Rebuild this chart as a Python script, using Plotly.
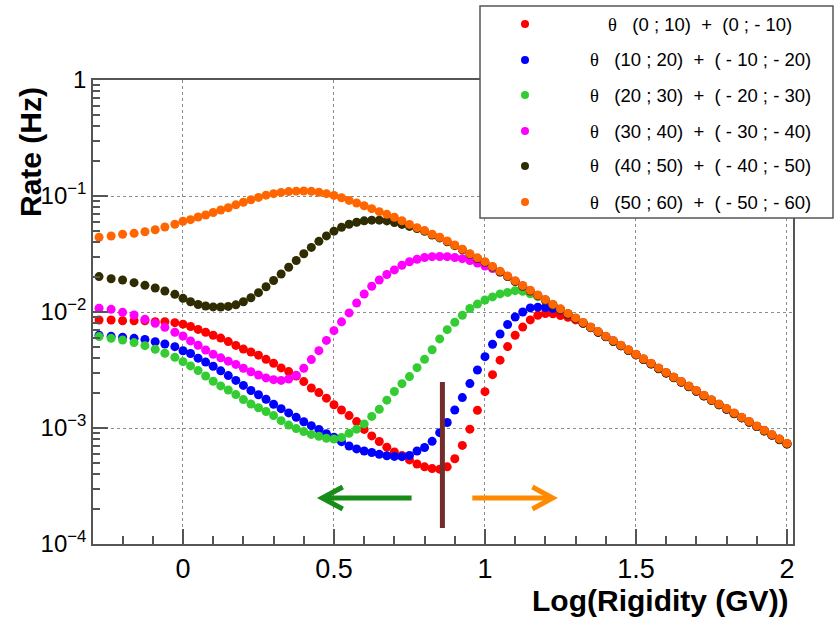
import numpy as np
import plotly.graph_objects as go

# Log10 of rigidity (GV) at each measured bin
log_rigidity = [
    -0.278, -0.238, -0.200, -0.162, -0.126, -0.092, -0.060, -0.027,
    0.000, 0.025, 0.050, 0.075, 0.100, 0.125, 0.150, 0.175, 0.200, 0.225,
    0.250, 0.275, 0.300, 0.325, 0.350, 0.375, 0.400, 0.425, 0.450, 0.475,
    0.500, 0.525, 0.550, 0.575, 0.600, 0.625, 0.650, 0.675, 0.700, 0.725,
    0.750, 0.775, 0.800, 0.825, 0.850, 0.875, 0.900, 0.925, 0.950, 0.975,
    1.000, 1.025, 1.050, 1.075, 1.100, 1.125, 1.150, 1.175, 1.200, 1.225,
    1.250, 1.275, 1.300, 1.325, 1.350, 1.375, 1.400, 1.425, 1.450, 1.475,
    1.500, 1.525, 1.550, 1.575, 1.600, 1.625, 1.650, 1.675, 1.700, 1.725,
    1.750, 1.775, 1.800, 1.825, 1.850, 1.875, 1.900, 1.925, 1.950, 1.975,
    2.000,
]

# log10 of the rate (Hz) for each zenith-angle band
log10_rate_0_10 = [
    -2.069, -2.069, -2.075, -2.075, -2.075, -2.084, -2.084, -2.092,
    -2.105, -2.125, -2.150, -2.175, -2.200, -2.225, -2.255, -2.288, -2.320, -2.345,
    -2.372, -2.408, -2.442, -2.482, -2.514, -2.552, -2.600, -2.655, -2.695, -2.743,
    -2.800, -2.845, -2.893, -2.945, -3.012, -3.068, -3.116, -3.165, -3.207, -3.236,
    -3.275, -3.310, -3.335, -3.350, -3.355, -3.335, -3.265, -3.150, -3.010, -2.848,
    -2.687, -2.540, -2.415, -2.298, -2.200, -2.130, -2.068, -2.028, -2.013, -2.015,
    -2.030, -2.045, -2.068, -2.098, -2.133, -2.173, -2.212, -2.251, -2.290, -2.329,
    -2.368, -2.407, -2.446, -2.486, -2.525, -2.564, -2.603, -2.642, -2.681, -2.721,
    -2.760, -2.798, -2.836, -2.874, -2.911, -2.948, -2.986, -3.023, -3.060, -3.098,
    -3.136,
]
log10_rate_10_20 = [
    -2.200, -2.210, -2.218, -2.227, -2.236, -2.256, -2.276, -2.299,
    -2.334, -2.358, -2.398, -2.432, -2.468, -2.507, -2.548, -2.590, -2.633, -2.677,
    -2.713, -2.752, -2.795, -2.833, -2.870, -2.908, -2.946, -2.980, -3.012, -3.050,
    -3.080, -3.118, -3.155, -3.180, -3.198, -3.211, -3.227, -3.239, -3.245, -3.247,
    -3.237, -3.198, -3.168, -3.115, -3.040, -2.953, -2.845, -2.738, -2.617, -2.500,
    -2.385, -2.278, -2.190, -2.108, -2.043, -2.000, -1.965, -1.958, -1.962, -1.970,
    -1.982, -2.017, -2.055, -2.094, -2.133, -2.173, -2.212, -2.251, -2.290, -2.329,
    -2.368, -2.407, -2.446, -2.486, -2.525, -2.564, -2.603, -2.642, -2.681, -2.721,
    -2.760, -2.798, -2.836, -2.874, -2.911, -2.948, -2.986, -3.023, -3.060, -3.098,
    -3.136,
]
log10_rate_20_30 = [
    -2.212, -2.227, -2.241, -2.264, -2.290, -2.322, -2.356, -2.391,
    -2.428, -2.465, -2.505, -2.552, -2.597, -2.637, -2.672, -2.712, -2.755, -2.793,
    -2.825, -2.858, -2.893, -2.937, -2.975, -3.005, -3.031, -3.055, -3.072, -3.088,
    -3.095, -3.082, -3.045, -3.010, -2.965, -2.900, -2.838, -2.760, -2.685, -2.618,
    -2.557, -2.480, -2.408, -2.325, -2.232, -2.152, -2.088, -2.028, -1.970, -1.932,
    -1.897, -1.870, -1.844, -1.831, -1.816, -1.822, -1.843, -1.868, -1.896, -1.937,
    -1.976, -2.015, -2.054, -2.093, -2.132, -2.172, -2.211, -2.250, -2.289, -2.328,
    -2.367, -2.406, -2.445, -2.485, -2.524, -2.563, -2.602, -2.641, -2.680, -2.720,
    -2.759, -2.797, -2.835, -2.873, -2.910, -2.947, -2.985, -3.022, -3.059, -3.097,
    -3.135,
]
log10_rate_30_40 = [
    -1.968, -1.977, -2.003, -2.026, -2.063, -2.098, -2.132, -2.175,
    -2.207, -2.249, -2.287, -2.328, -2.365, -2.395, -2.424, -2.452, -2.485, -2.515,
    -2.543, -2.568, -2.583, -2.590, -2.578, -2.545, -2.485, -2.410, -2.333, -2.245,
    -2.161, -2.085, -2.008, -1.922, -1.845, -1.778, -1.724, -1.677, -1.637, -1.597,
    -1.567, -1.545, -1.530, -1.523, -1.522, -1.523, -1.530, -1.540, -1.556, -1.578,
    -1.603, -1.625, -1.655, -1.692, -1.735, -1.776, -1.817, -1.857, -1.897, -1.938,
    -1.977, -2.016, -2.055, -2.094, -2.133, -2.173, -2.212, -2.251, -2.290, -2.329,
    -2.368, -2.407, -2.446, -2.486, -2.525, -2.564, -2.603, -2.642, -2.681, -2.721,
    -2.760, -2.798, -2.836, -2.874, -2.911, -2.948, -2.986, -3.023, -3.060, -3.098,
    -3.136,
]
log10_rate_40_50 = [
    -1.695, -1.713, -1.724, -1.747, -1.770, -1.793, -1.819, -1.848,
    -1.882, -1.912, -1.935, -1.948, -1.956, -1.957, -1.952, -1.938, -1.912, -1.877,
    -1.833, -1.782, -1.728, -1.672, -1.614, -1.556, -1.498, -1.443, -1.391, -1.344,
    -1.303, -1.270, -1.244, -1.226, -1.214, -1.208, -1.208, -1.215, -1.228, -1.245,
    -1.262, -1.281, -1.304, -1.336, -1.361, -1.394, -1.428, -1.463, -1.503, -1.539,
    -1.572, -1.613, -1.655, -1.695, -1.737, -1.778, -1.820, -1.859, -1.899, -1.941,
    -1.979, -2.019, -2.057, -2.097, -2.135, -2.176, -2.214, -2.254, -2.292, -2.332,
    -2.370, -2.410, -2.448, -2.489, -2.527, -2.567, -2.605, -2.645, -2.683, -2.724,
    -2.762, -2.801, -2.838, -2.877, -2.913, -2.951, -2.988, -3.026, -3.062, -3.101,
    -3.138,
]
log10_rate_50_60 = [
    -1.356, -1.345, -1.330, -1.322, -1.308, -1.291, -1.267, -1.244,
    -1.218, -1.204, -1.181, -1.164, -1.142, -1.121, -1.101, -1.076, -1.054, -1.032,
    -1.012, -0.993, -0.980, -0.969, -0.962, -0.958, -0.957, -0.960, -0.968, -0.980,
    -0.995, -1.015, -1.038, -1.060, -1.084, -1.109, -1.135, -1.158, -1.183, -1.213,
    -1.245, -1.273, -1.298, -1.330, -1.356, -1.388, -1.422, -1.458, -1.498, -1.533,
    -1.566, -1.607, -1.648, -1.689, -1.731, -1.772, -1.813, -1.853, -1.893, -1.934,
    -1.973, -2.012, -2.051, -2.090, -2.129, -2.169, -2.208, -2.247, -2.286, -2.325,
    -2.364, -2.403, -2.442, -2.482, -2.521, -2.560, -2.599, -2.638, -2.677, -2.717,
    -2.756, -2.794, -2.832, -2.870, -2.907, -2.944, -2.982, -3.019, -3.056, -3.094,
    -3.132,
]

band_labels = [
    "(0 ; 10)\u00a0\u00a0+\u00a0\u00a0(0 ; - 10)",
    "(10 ; 20)\u00a0\u00a0+\u00a0\u00a0( - 10 ; - 20)",
    "(20 ; 30)\u00a0\u00a0+\u00a0\u00a0( - 20 ; - 30)",
    "(30 ; 40)\u00a0\u00a0+\u00a0\u00a0( - 30 ; - 40)",
    "(40 ; 50)\u00a0\u00a0+\u00a0\u00a0( - 40 ; - 50)",
    "(50 ; 60)\u00a0\u00a0+\u00a0\u00a0( - 50 ; - 60)",
]
band_colors = ["#ff0000", "#0000ff", "#33cc33", "#ff00ff", "#2e2c00", "#ff6600"]
band_rates = [log10_rate_0_10, log10_rate_10_20, log10_rate_20_30,
              log10_rate_30_40, log10_rate_40_50, log10_rate_50_60]

x_ticks = [0, 0.5, 1, 1.5, 2]
x_tick_text = ["0", "0.5", "1", "1.5", "2"]
y_ticks = [1e-4, 1e-3, 1e-2, 1e-1, 1]
y_tick_text = ["10<sup>\u22124</sup>", "10<sup>\u22123</sup>", "10<sup>\u22122</sup>",
               "10<sup>\u22121</sup>", "1"]
y_minor = [m * 10.0 ** e for e in range(-4, 0) for m in range(2, 10)]

cut_log_rigidity = 0.859

for vals in band_rates:
    if len(vals) != len(log_rigidity):
        raise ValueError("series length mismatch")

# frame geometry in pixels
W, H = 836, 620
L, R, T, B = 93, 793, 80, 544


def px_x(px):
    return (px - L) / (R - L)


def px_y(py):
    return (B - py) / (B - T)


FONT = "Liberation Sans, Arial, Helvetica, sans-serif"
AXIS_GREY = "#555555"

fig = go.Figure()
for label, vals, color in zip(band_labels, band_rates, band_colors):
    fig.add_trace(go.Scatter(
        x=log_rigidity,
        y=np.power(10.0, vals),
        mode="markers",
        name=label,
        marker=dict(size=9, color=color, line=dict(width=0)),
        showlegend=False,
    ))

shapes = []
# cut line and direction arrows
shapes.append(dict(type="line", xref="x", yref="paper",
                   x0=cut_log_rigidity, x1=cut_log_rigidity,
                   y0=px_y(528), y1=px_y(382),
                   line=dict(color="#722c2c", width=5), layer="above"))
green_arrow = "#178c17"
orange_arrow = "#ff8a00"
shapes.append(dict(type="line", xref="x", yref="paper",
                   x0=0.462, x1=0.757, y0=px_y(498), y1=px_y(498),
                   line=dict(color=green_arrow, width=5), layer="above"))
shapes.append(dict(type="path", xref="x", yref="paper",
                   path=f"M 0.529,{px_y(487)} L 0.461,{px_y(498)} L 0.529,{px_y(509)}",
                   line=dict(color=green_arrow, width=5), layer="above"))
shapes.append(dict(type="line", xref="x", yref="paper",
                   x0=0.958, x1=1.220, y0=px_y(498), y1=px_y(498),
                   line=dict(color=orange_arrow, width=5), layer="above"))
shapes.append(dict(type="path", xref="x", yref="paper",
                   path=f"M 1.157,{px_y(487)} L 1.224,{px_y(498)} L 1.157,{px_y(509)}",
                   line=dict(color=orange_arrow, width=5), layer="above"))

# legend box
shapes.append(dict(type="rect", xref="paper", yref="paper",
                   x0=px_x(480), x1=px_x(833), y0=px_y(218), y1=px_y(6),
                   line=dict(color=AXIS_GREY, width=1.5), fillcolor="white",
                   layer="above"))

annotations = []
row_y = [24, 60, 95, 131, 166, 202]
for i, (label, color) in enumerate(zip(band_labels, band_colors)):
    cy = row_y[i]
    shapes.append(dict(type="circle", xref="paper", yref="paper",
                       x0=px_x(521), x1=px_x(529), y0=px_y(cy + 4), y1=px_y(cy - 4),
                       line=dict(width=0), fillcolor=color, layer="above"))
    annotations.append(dict(
        xref="paper", yref="paper", x=px_x(700), y=px_y(cy),
        xanchor="center", yanchor="middle", showarrow=False,
        text="<span style='font-family:Liberation Serif'>\u03b8</span>\u00a0\u00a0\u00a0" + label,
        font=dict(family=FONT, size=18.5, color="black"),
    ))

annotations.append(dict(
    xref="paper", yref="paper", x=px_x(30), y=px_y(85),
    xanchor="center", yanchor="top", showarrow=False, textangle=-90,
    text="<b>Rate (Hz)</b>", font=dict(family=FONT, size=30, color="black"),
))
annotations.append(dict(
    xref="paper", yref="paper", x=px_x(791), y=px_y(600),
    xanchor="right", yanchor="middle", showarrow=False,
    text="<b>Log(Rigidity (GV))</b>", font=dict(family=FONT, size=30, color="black"),
))

fig.update_layout(
    width=W, height=H,
    margin=dict(l=L, r=W - R, t=T, b=H - B, pad=0),
    paper_bgcolor="white", plot_bgcolor="white",
    showlegend=False,
    shapes=shapes, annotations=annotations,
    xaxis=dict(
        range=[-0.298, 2.02], tickmode="array", tickvals=x_ticks, ticktext=x_tick_text,
        ticks="inside", ticklen=15, tickwidth=1.5, tickcolor=AXIS_GREY,
        showline=True, linecolor=AXIS_GREY, linewidth=1.5, mirror=True,
        showgrid=True, gridcolor="#8c8c8c", gridwidth=1, griddash="dot",
        zeroline=False, tickfont=dict(family=FONT, size=27, color="black"),
        minor=dict(ticks="inside", ticklen=8, tickwidth=1.5, tickcolor=AXIS_GREY,
                   dtick=0.1, tick0=0, showgrid=False),
    ),
    yaxis=dict(
        type="log", range=[-4, 0], tickmode="array", tickvals=y_ticks, ticktext=y_tick_text,
        ticks="inside", ticklen=15, tickwidth=1.5, tickcolor=AXIS_GREY,
        showline=True, linecolor=AXIS_GREY, linewidth=1.5, mirror=True,
        showgrid=True, gridcolor="#8c8c8c", gridwidth=1, griddash="dot",
        zeroline=False, tickfont=dict(family=FONT, size=24, color="black"),
        minor=dict(ticks="inside", ticklen=7, tickwidth=1.5, tickcolor=AXIS_GREY,
                   tickmode="array", tickvals=y_minor, showgrid=False),
    ),
)

fig.write_html("out.html")
